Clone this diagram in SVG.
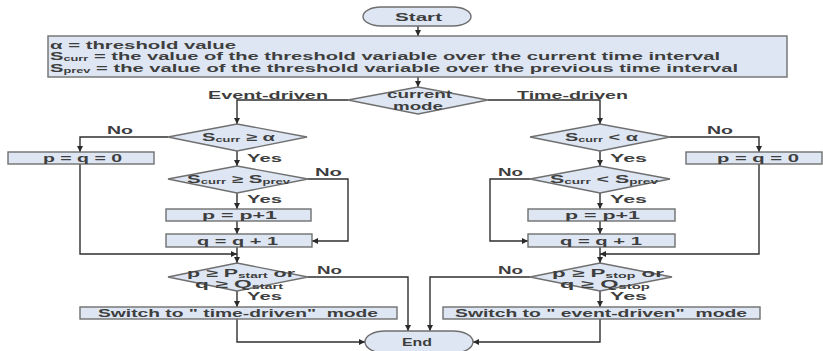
<svg xmlns="http://www.w3.org/2000/svg" width="823" height="351" viewBox="0 0 823 351">
<defs>
<marker id="ah" markerWidth="6" markerHeight="6" refX="6" refY="3" orient="auto" markerUnits="userSpaceOnUse">
<path d="M0,0 L6,3 L0,6 z" fill="#2a2a2a"/>
</marker>
<style>
.n{fill:#dde6f2;stroke:#6f6f6f;stroke-width:1.4}
.t{font-family:"Liberation Sans",Arial,sans-serif;font-size:11px;font-weight:bold;fill:#3e3e3e}
.s{font-size:7px}
.c{fill:none;stroke:#2f2f2f;stroke-width:1.4;marker-end:url(#ah)}
</style>
</defs>
<rect width="823" height="351" fill="#ffffff"/>
<g id="connectors">
<path class="c" d="M418 25 V36"/>
<path class="c" d="M418 77 V87"/>
<path class="c" d="M348 100 H237 V124"/>
<path class="c" d="M488 100 H600 V124"/>
<path class="c" d="M168 137 H80 V152"/>
<path class="c" d="M237 151 V166"/>
<path class="c" d="M237 193 V209"/>
<path class="c" d="M308 179 H348 V241 H312"/>
<path class="c" d="M237 221 V234"/>
<path class="c" d="M237 247 V263"/>
<path class="c" d="M80 164 V254 H237"/>
<path class="c" d="M237 291 V307"/>
<path class="c" d="M308 277 H408 V331"/>
<path class="c" d="M237 319 V342 H365"/>
<path class="c" d="M670 137 H759 V152"/>
<path class="c" d="M600 151 V166"/>
<path class="c" d="M600 193 V209"/>
<path class="c" d="M530 179 H490 V241 H528"/>
<path class="c" d="M600 221 V234"/>
<path class="c" d="M600 247 V263"/>
<path class="c" d="M759 164 V254 H600"/>
<path class="c" d="M600 291 V307"/>
<path class="c" d="M530 277 H430 V331"/>
<path class="c" d="M600 319 V342 H473"/>
</g>
<g id="start">
<rect class="n" x="363" y="7" width="108" height="19" rx="18" ry="9.5"/>
<text class="t" x="395" y="21" textLength="47" lengthAdjust="spacingAndGlyphs">Start</text>
</g>
<g id="definitions">
<rect class="n" x="48" y="36" width="739" height="41"/>
<text class="t" x="50" y="48.5" textLength="186" lengthAdjust="spacingAndGlyphs">α = threshold value</text>
<text class="t" x="50" y="60" textLength="670" lengthAdjust="spacingAndGlyphs">S<tspan class="s" dy="1">curr</tspan><tspan dy="-1"> = the value of the threshold variable over the current time interval</tspan></text>
<text class="t" x="50" y="71.5" textLength="688" lengthAdjust="spacingAndGlyphs">S<tspan class="s" dy="1">prev</tspan><tspan dy="-1"> = the value of the threshold variable over the previous time interval</tspan></text>
</g>
<g id="mode">
<polygon class="n" points="348,100 418,87 488,100 418,114"/>
<text class="t" x="387" y="98" textLength="65" lengthAdjust="spacingAndGlyphs">current</text>
<text class="t" x="393" y="110" textLength="50" lengthAdjust="spacingAndGlyphs">mode</text>
</g>
<g id="labels">
<text class="t" x="208" y="99" textLength="120" lengthAdjust="spacingAndGlyphs">Event-driven</text>
<text class="t" x="517" y="99" textLength="111" lengthAdjust="spacingAndGlyphs">Time-driven</text>
<text class="t" x="107" y="134" textLength="26" lengthAdjust="spacingAndGlyphs">No</text>
<text class="t" x="247" y="162" textLength="35" lengthAdjust="spacingAndGlyphs">Yes</text>
<text class="t" x="315" y="176" textLength="27" lengthAdjust="spacingAndGlyphs">No</text>
<text class="t" x="247" y="203" textLength="35" lengthAdjust="spacingAndGlyphs">Yes</text>
<text class="t" x="317" y="274" textLength="25" lengthAdjust="spacingAndGlyphs">No</text>
<text class="t" x="247" y="300" textLength="35" lengthAdjust="spacingAndGlyphs">Yes</text>
<text class="t" x="707" y="134" textLength="26" lengthAdjust="spacingAndGlyphs">No</text>
<text class="t" x="610" y="162" textLength="37" lengthAdjust="spacingAndGlyphs">Yes</text>
<text class="t" x="498" y="176" textLength="25" lengthAdjust="spacingAndGlyphs">No</text>
<text class="t" x="610" y="203" textLength="37" lengthAdjust="spacingAndGlyphs">Yes</text>
<text class="t" x="498" y="274" textLength="25" lengthAdjust="spacingAndGlyphs">No</text>
<text class="t" x="610" y="300" textLength="37" lengthAdjust="spacingAndGlyphs">Yes</text>
</g>
<g id="ev-check-alpha">
<polygon class="n" points="168,137 237,124 307,137 237,151"/>
<text class="t" x="202" y="141" textLength="73" lengthAdjust="spacingAndGlyphs">S<tspan class="s" dy="1">curr</tspan><tspan dy="-1"> ≥ α</tspan></text>
</g>
<g id="ev-reset">
<rect class="n" x="8" y="152" width="146" height="12"/>
<text class="t" x="43" y="162" textLength="79" lengthAdjust="spacingAndGlyphs">p = q = 0</text>
</g>
<g id="ev-check-prev">
<polygon class="n" points="168,179 237,166 308,179 237,193"/>
<text class="t" x="187" y="183" textLength="103" lengthAdjust="spacingAndGlyphs">S<tspan class="s" dy="1">curr</tspan><tspan dy="-1"> ≥ S</tspan><tspan class="s" dy="1">prev</tspan></text>
</g>
<g id="ev-p-inc">
<rect class="n" x="166" y="209" width="145" height="12"/>
<text class="t" x="202" y="219" textLength="75" lengthAdjust="spacingAndGlyphs">p = p+1</text>
</g>
<g id="ev-q-inc">
<rect class="n" x="166" y="234" width="146" height="13"/>
<text class="t" x="197" y="245" textLength="81" lengthAdjust="spacingAndGlyphs">q = q + 1</text>
</g>
<g id="ev-check-switch">
<polygon class="n" points="168,277 237,263 308,277 237,291"/>
<text class="t" x="187" y="277" textLength="108" lengthAdjust="spacingAndGlyphs">p ≥ P<tspan class="s" dy="1">start</tspan><tspan dy="-1"> or</tspan></text>
<text class="t" x="195" y="288" textLength="88" lengthAdjust="spacingAndGlyphs">q ≥ Q<tspan class="s" dy="1">start</tspan></text>
</g>
<g id="ev-switch">
<rect class="n" x="80" y="307" width="317" height="12"/>
<text class="t" x="98" y="317" textLength="280" lengthAdjust="spacingAndGlyphs">Switch to " time-driven"&#160; mode</text>
</g>
<g id="td-check-alpha">
<polygon class="n" points="530,137 600,124 670,137 600,151"/>
<text class="t" x="565" y="141" textLength="73" lengthAdjust="spacingAndGlyphs">S<tspan class="s" dy="1">curr</tspan><tspan dy="-1"> &lt; α</tspan></text>
</g>
<g id="td-reset">
<rect class="n" x="686" y="152" width="136" height="12"/>
<text class="t" x="717" y="162" textLength="82" lengthAdjust="spacingAndGlyphs">p = q = 0</text>
</g>
<g id="td-check-prev">
<polygon class="n" points="530,179 600,166 670,179 600,193"/>
<text class="t" x="550" y="183" textLength="108" lengthAdjust="spacingAndGlyphs">S<tspan class="s" dy="1">curr</tspan><tspan dy="-1"> &lt; S</tspan><tspan class="s" dy="1">prev</tspan></text>
</g>
<g id="td-p-inc">
<rect class="n" x="528" y="209" width="147" height="12"/>
<text class="t" x="565" y="219" textLength="75" lengthAdjust="spacingAndGlyphs">p = p+1</text>
</g>
<g id="td-q-inc">
<rect class="n" x="528" y="234" width="147" height="13"/>
<text class="t" x="560" y="245" textLength="82" lengthAdjust="spacingAndGlyphs">q = q + 1</text>
</g>
<g id="td-check-switch">
<polygon class="n" points="530,277 600,263 672,277 600,291"/>
<text class="t" x="552" y="277" textLength="112" lengthAdjust="spacingAndGlyphs">p ≥ P<tspan class="s" dy="1">stop</tspan><tspan dy="-1"> or</tspan></text>
<text class="t" x="560" y="288" textLength="90" lengthAdjust="spacingAndGlyphs">q ≥ Q<tspan class="s" dy="1">stop</tspan></text>
</g>
<g id="td-switch">
<rect class="n" x="443" y="307" width="317" height="12"/>
<text class="t" x="455" y="317" textLength="292" lengthAdjust="spacingAndGlyphs">Switch to " event-driven"&#160; mode</text>
</g>
<g id="end">
<rect class="n" x="365" y="331" width="108" height="22" rx="20" ry="11"/>
<text class="t" x="402" y="346" textLength="30" lengthAdjust="spacingAndGlyphs">End</text>
</g>
</svg>
